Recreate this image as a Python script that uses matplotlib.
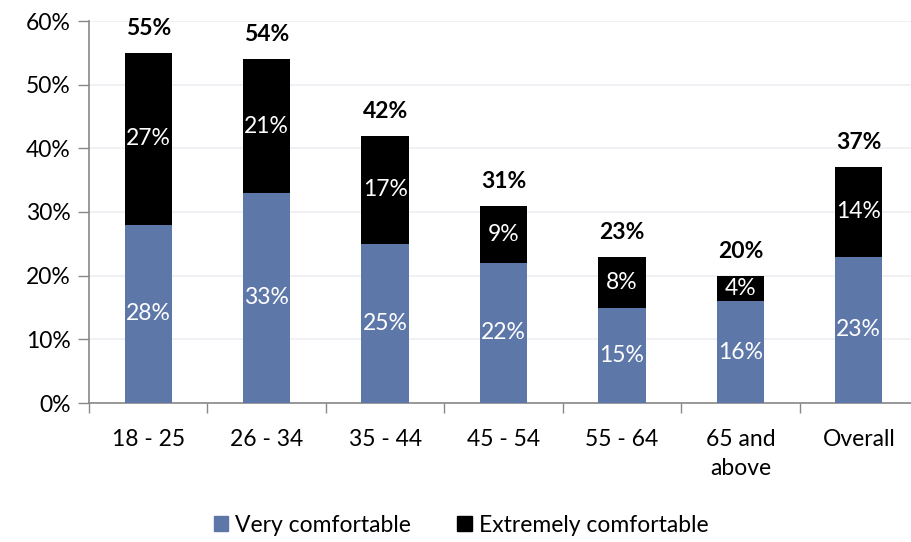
import matplotlib
matplotlib.use("Agg")
import matplotlib.pyplot as plt
from matplotlib.patches import Patch
import numpy as np

categories = ["18 - 25", "26 - 34", "35 - 44", "45 - 54", "55 - 64", "65 and\nabove", "Overall"]
very = [28, 33, 25, 22, 15, 16, 23]
extremely = [27, 21, 17, 9, 8, 4, 14]
totals = [55, 54, 42, 31, 23, 20, 37]
yticks = [0, 10, 20, 30, 40, 50, 60]

plt.rcParams['font.family'] = ['Lato', 'DejaVu Sans']
FS = 16.5

fig = plt.figure(figsize=(9.12, 5.42), dpi=100)
ax = fig.add_axes([89/912, (542-403)/542, (918-89)/912, (403-21)/542])

blue = "#5E77A9"
x = np.arange(len(categories))
w = 0.4
ax.bar(x, very, w, color=blue, zorder=3)
ax.bar(x, extremely, w, bottom=very, color="black", zorder=3)

for i in range(len(x)):
    ax.text(x[i], very[i] / 2, f"{very[i]}%", ha="center", va="center", color="white", fontsize=FS, zorder=4)
    ax.text(x[i], very[i] + extremely[i] / 2, f"{extremely[i]}%", ha="center", va="center", color="white", fontsize=FS, zorder=4)
    ax.text(x[i], totals[i] + 2.2, f"{totals[i]}%", ha="center", va="bottom", color="black", fontsize=FS, fontweight="bold", zorder=4)

ax.set_xlim(-0.5, len(x) - 0.5)
ax.set_ylim(0, 60)
ax.set_yticks(yticks)
ax.set_yticklabels([f"{v}%" for v in yticks], fontsize=FS)
ax.yaxis.grid(True, color="#EDEDF3", linewidth=1.2, zorder=0)
ax.set_axisbelow(True)

ax.set_xticks(np.arange(len(x) + 1) - 0.5)
ax.set_xticklabels([])
ax.set_xticks(x, minor=True)
ax.set_xticklabels(categories, minor=True, fontsize=FS, linespacing=1.45, va="top")
ax.tick_params(axis="x", which="minor", length=0, pad=19)
ax.tick_params(axis="x", which="major", length=7, color="#888888", width=1)
ax.tick_params(axis="y", length=8, color="#888888", width=1, pad=5)

for s in ["top", "right"]:
    ax.spines[s].set_visible(False)
for s in ["left", "bottom"]:
    ax.spines[s].set_color("#888888")
    ax.spines[s].set_linewidth(1.2)

handles = [Patch(color=blue, label="Very comfortable"), Patch(color="black", label="Extremely comfortable")]
fig.legend(handles=handles, loc="center", bbox_to_anchor=(461/912, 1 - 525/542), ncol=2, frameon=False,
           fontsize=FS, handlelength=0.65, handleheight=0.65, handletextpad=0.3, columnspacing=2.0)

fig.savefig("out.png", dpi=100)
